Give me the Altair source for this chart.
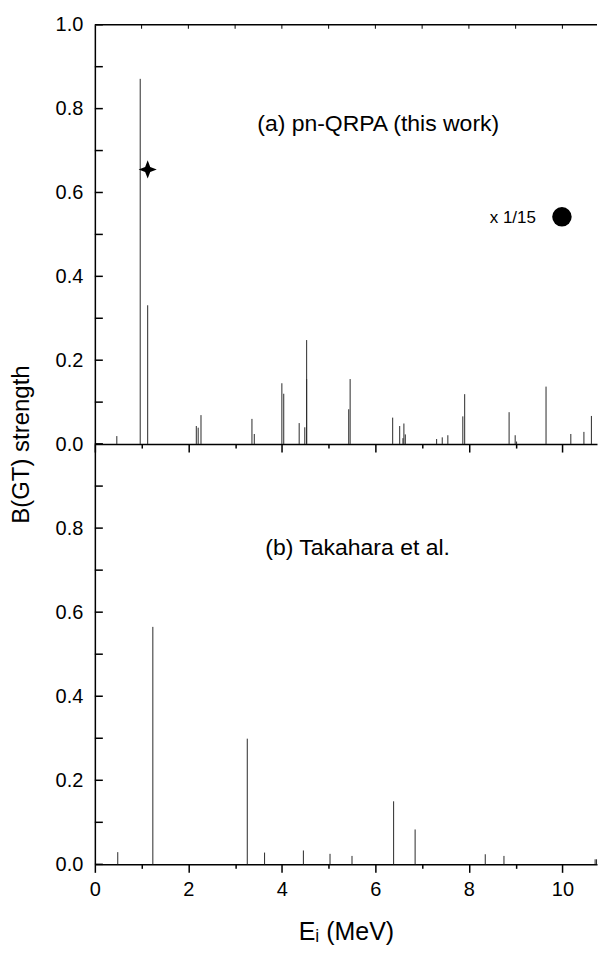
import altair as alt
import pandas as pd

# ---------------- data ----------------
# Panel (a): pn-QRPA (this work)
qrpa_E = [0.47, 0.97, 1.13, 2.17, 2.21, 2.27, 3.36, 3.41, 4.00, 4.04, 4.37, 4.49,
          4.53, 4.53, 5.43, 5.46, 6.37, 6.52, 6.59, 6.61, 6.64, 7.31, 7.43, 7.55,
          7.87, 7.91, 8.86, 8.99, 9.02, 9.65, 10.18, 10.46, 10.62]
qrpa_B = [0.019, 0.871, 0.331, 0.043, 0.039, 0.069, 0.060, 0.024, 0.145, 0.120, 0.050, 0.040,
          0.248, 0.155, 0.083, 0.155, 0.063, 0.043, 0.014, 0.049, 0.023, 0.012, 0.016, 0.021,
          0.066, 0.119, 0.076, 0.021, 0.006, 0.137, 0.024, 0.029, 0.067]

# Panel (b): Takahara et al.
tak_E = [0.49, 1.24, 3.26, 3.63, 4.46, 5.03, 5.50, 6.39, 6.85, 8.35, 8.75, 10.70, 10.73]
tak_B = [0.029, 0.565, 0.299, 0.028, 0.033, 0.025, 0.020, 0.150, 0.083, 0.024, 0.020, 0.012, 0.012]

# Markers
star_E = [1.13]
star_B = [0.655]
circle_E = [9.99]
circle_B = [0.542]

# Annotations (text, E, B)
label_a = ["(a) pn-QRPA (this work)"]
label_a_E = [6.06]
label_a_B = [0.764]
label_b = ["(b) Takahara et al."]
label_b_E = [5.62]
label_b_B = [0.753]
note_text = ["x 1/15"]
note_E = [8.94]
note_B = [0.538]

# Axis ticks
x_ticks = [0, 1, 2, 3, 4, 5, 6, 7, 8, 9, 10]
y_ticks = [0.0, 0.1, 0.2, 0.3, 0.4, 0.5, 0.6, 0.7, 0.8, 0.9, 1.0]
y_labels_top = [0.0, 0.2, 0.4, 0.6, 0.8, 1.0]
y_labels_bottom = [0.0, 0.2, 0.4, 0.6, 0.8]

# ---------------- chart ----------------
X_MAX = 10.74
W = 503
H_TOP = 420
H_BOT = 421
FONT = "Liberation Sans"
LINE = "#2a2a2a"

xscale = alt.Scale(domain=[0, X_MAX], nice=False, zero=False)
yscale = alt.Scale(domain=[0, 1], nice=False)

star_path = "M0,-1L0.28,-0.28L1,0L0.28,0.28L0,1L-0.28,0.28L-1,0L-0.28,-0.28Z"


def x_axis(show_labels):
    kw = dict(
        values=x_ticks,
        format="d",
        labelExpr="datum.value % 2 === 0 ? datum.label : ''",
        labels=show_labels,
        labelFlush=False,
        tickSize={"condition": {"test": "datum.value % 2 === 0", "value": 8}, "value": 4},
        labelPadding=7,
        grid=False,
    )
    if show_labels:
        kw.update(title="E\u1d62 (MeV)", titleFontSize=25, titleFontWeight="normal",
                  titlePadding=20)
    else:
        kw.update(title=None)
    return alt.Axis(**kw)


def y_axis(values, with_title):
    kw = dict(values=values, format=".1f", ticks=False, tickSize=0, labelPadding=12,
              grid=False, labelFlush=False)
    if with_title:
        kw.update(title="B(GT) strength", titleX=-73, titleY=H_TOP, titleAngle=270,
                  titleAlign="center", titleBaseline="middle", titleFontSize=24,
                  titleFontWeight="normal")
    else:
        kw.update(title=None)
    return alt.Axis(**kw)


def build_panel(E, B, show_x_labels, y_values, with_title, H, extra):
    xa = x_axis(show_x_labels)
    ya = y_axis(y_values, with_title)

    def X(f):
        return alt.X(f, scale=xscale, axis=xa)

    def Y(f):
        return alt.Y(f, scale=yscale, axis=ya)

    df = pd.DataFrame({"E": E, "B": B})
    layers = [
        alt.Chart(df).mark_rule(color=LINE, strokeWidth=1).encode(
            x=X("E:Q"), y=Y("B:Q"), y2=alt.datum(0)),
        alt.Chart(pd.DataFrame({"v": y_ticks})).mark_rule(color="black", strokeWidth=1.5).encode(
            y=Y("v:Q"), x=alt.value(0), x2=alt.value(8)),
    ]
    for kind, d, opts in extra:
        if kind == "text":
            layers.append(alt.Chart(d).mark_text(font=FONT, color="black", align="center",
                                                 baseline="middle", **opts).encode(
                x=X("E:Q"), y=Y("B:Q"), text="t:N"))
        elif kind == "point":
            layers.append(alt.Chart(d).mark_point(filled=True, color="black", opacity=1,
                                                  **opts).encode(x=X("E:Q"), y=Y("B:Q")))
        elif kind == "topticks":
            layers.append(alt.Chart(d).mark_rule(color="black", strokeWidth=1).encode(
                x=X("t:Q"), y=alt.value(0), y2=alt.value(4)))
        elif kind == "border":
            layers.append(alt.Chart(d).mark_rule(color="black", strokeWidth=1.5).encode(
                x=alt.value(0), x2=alt.value(W), y=alt.value(0)))
    return alt.layer(*layers).properties(width=W, height=H)


top_extra = [
    ("point", pd.DataFrame({"E": star_E, "B": star_B}), dict(shape=star_path, size=330)),
    ("point", pd.DataFrame({"E": circle_E, "B": circle_B}), dict(shape="circle", size=380)),
    ("text", pd.DataFrame({"t": label_a, "E": label_a_E, "B": label_a_B}), dict(fontSize=23)),
    ("text", pd.DataFrame({"t": note_text, "E": note_E, "B": note_B}), dict(fontSize=17)),
    ("border", pd.DataFrame({"a": [0]}), {}),
    ("topticks", pd.DataFrame({"t": x_ticks[1:]}), {}),
]
bottom_extra = [
    ("text", pd.DataFrame({"t": label_b, "E": label_b_E, "B": label_b_B}), dict(fontSize=23)),
]

top = build_panel(qrpa_E, qrpa_B, False, y_labels_top, True, H_TOP, top_extra)
bottom = build_panel(tak_E, tak_B, True, y_labels_bottom, False, H_BOT, bottom_extra)

chart = alt.vconcat(top, bottom, spacing=0, bounds="flush").properties(
    padding={"left": 2, "top": 6, "right": 0, "bottom": 0}
).configure(font=FONT).configure_view(stroke=None).configure_axis(
    labelFont=FONT, titleFont=FONT, labelFontSize=20, labelColor="black",
    titleColor="black", domainColor="black", domainWidth=1.5,
    tickColor="black", tickWidth=1.5,
)

chart.save("out.html", embed_options={"renderer": "svg", "actions": False})
